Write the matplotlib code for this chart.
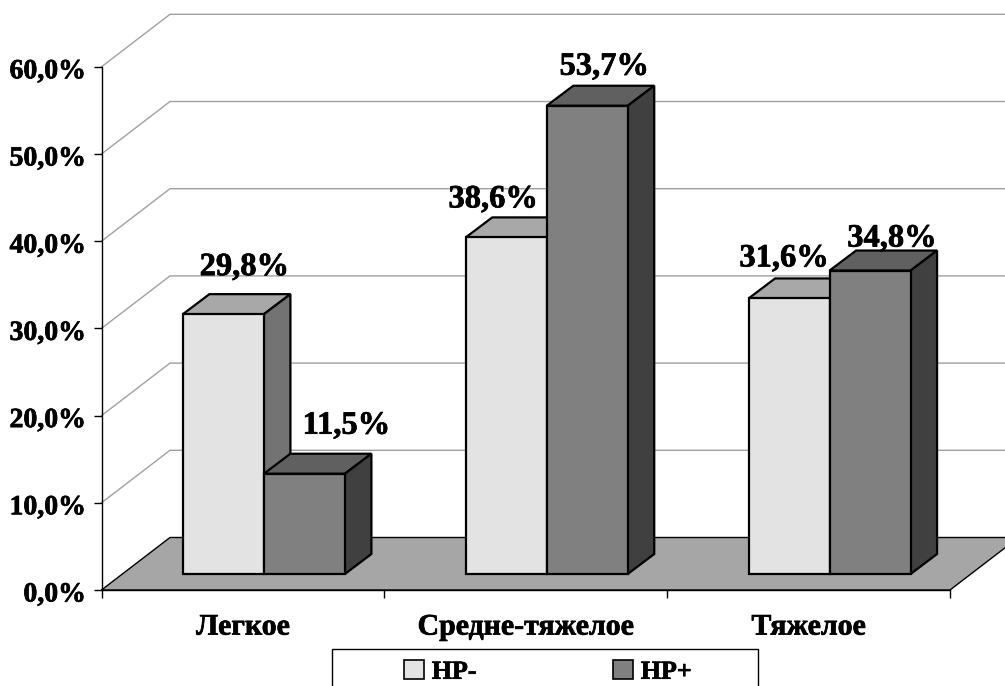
import matplotlib
matplotlib.use("Agg")
import matplotlib.pyplot as plt
from matplotlib.patches import Patch, Rectangle
from matplotlib.transforms import ScaledTranslation
import matplotlib.patheffects as pe

plt.rcParams['font.family'] = ['Liberation Serif', 'DejaVu Serif']
plt.rcParams['font.weight'] = 'bold'

# data
categories = ["Легкое", "Средне-тяжелое", "Тяжелое"]
hp_neg = [29.8, 38.6, 31.6]
hp_pos = [11.5, 53.7, 34.8]
hp_neg_labels = ["29,8%", "38,6%", "31,6%"]
hp_pos_labels = ["11,5%", "53,7%", "34,8%"]
y_ticks = [0, 10, 20, 30, 40, 50, 60]
y_tick_labels = ["0,0%", "10,0%", "20,0%", "30,0%", "40,0%", "50,0%", "60,0%"]

# canvas size and the pixel scale of the axes
W, H = 1005, 686
PX_X = 282.83       # pixels per category
PX_Y = 8.72         # pixels per percent
X0, Y0 = 101.5, 590 # pixel position of the origin

# thin outline to make the bold text a bit heavier
heavy = [pe.withStroke(linewidth=0.5, foreground='black')]


def dx(px):
    return px / PX_X


def dy(px):
    return px / PX_Y


fig = plt.figure(figsize=(W / 100, H / 100), dpi=100, facecolor='white')
ax = fig.add_axes([0, 0, 1, 1])
ax.set_xlim(-X0 / PX_X, (W - X0) / PX_X)
ax.set_ylim(-(H - Y0) / PX_Y, Y0 / PX_Y)
ax.patch.set_visible(False)

# fake 3d depth of the wall, and of the bars standing on the floor
wall_dx, wall_dy = dx(68.5), dy(52.5)
bar_dx, bar_dy = dx(26.5), dy(20)
front_dx, front_dy = dx(21), dy(16)
bar_w = dx(81)

# back wall grid lines
for v in y_ticks[1:]:
    ax.plot([0, wall_dx, 3 + wall_dx], [v, v + wall_dy, v + wall_dy],
            color='#a0a0a0', lw=1.0, zorder=1)

# floor
ax.fill([0, 3, 3 + wall_dx, wall_dx], [0, 0, wall_dy, wall_dy],
        facecolor='#a6a6a6', edgecolor='black', lw=1.0, zorder=1.5)


def draw_bar(x, v, front, top, side, z):
    y = front_dy
    ax.bar(x, v, width=bar_w, bottom=y, align='edge', color=front,
           edgecolor='black', lw=1.6, zorder=z + 0.2)
    ax.fill([x, x + bar_w, x + bar_w + bar_dx, x + bar_dx],
            [y + v, y + v, y + v + bar_dy, y + v + bar_dy],
            facecolor=top, edgecolor='black', lw=1.6, zorder=z, joinstyle='miter')
    ax.fill([x + bar_w, x + bar_w + bar_dx, x + bar_w + bar_dx, x + bar_w],
            [y, y + bar_dy, y + v + bar_dy, y + v],
            facecolor=side, edgecolor='black', lw=1.6, zorder=z, joinstyle='miter')


for i in range(3):
    x_mid = i + 0.5 + front_dx
    draw_bar(x_mid - bar_w, hp_neg[i], '#e3e3e3', '#a8a8a8', '#737373', 3 + i)
    draw_bar(x_mid, hp_pos[i], '#808080', '#606060', '#404040', 3.5 + i)

# value labels were nudged by hand, offsets in pixels from the front top middle
neg_nudge = [(21, 39), (-13, 30), (-5, 32)]
pos_nudge = [(42, 40), (17, 31), (22, 24)]
for i in range(3):
    x_mid = i + 0.5 + front_dx
    ax.annotate(hp_neg_labels[i], (x_mid - bar_w / 2, hp_neg[i] + front_dy),
                xytext=neg_nudge[i], textcoords='offset pixels', ha='center',
                va='baseline', fontsize=23.4, zorder=20, path_effects=heavy)
    ax.annotate(hp_pos_labels[i], (x_mid + bar_w / 2, hp_pos[i] + front_dy),
                xytext=pos_nudge[i], textcoords='offset pixels', ha='center',
                va='baseline', fontsize=23.4, zorder=20, path_effects=heavy)

# axes lines and ticks
for name in ['top', 'right']:
    ax.spines[name].set_visible(False)
ax.spines['left'].set_position(('data', 0))
ax.spines['left'].set_bounds(0, 60)
ax.spines['bottom'].set_position(('data', 0))
ax.spines['bottom'].set_bounds(0, 3)
ax.spines['left'].set_linewidth(1.0)
ax.spines['bottom'].set_linewidth(1.0)
ax.spines['left'].set_zorder(2.5)
ax.spines['bottom'].set_zorder(2.5)

ax.set_yticks(y_ticks)
ax.set_yticklabels(y_tick_labels, fontsize=20)
ax.tick_params(axis='y', length=5.5, width=1.0, pad=6)
shift_down = ScaledTranslation(0, -2 / 100, fig.dpi_scale_trans)
for lab in ax.get_yticklabels():
    lab.set_verticalalignment('center_baseline')
    lab.set_transform(lab.get_transform() + shift_down)
    lab.set_path_effects(heavy)

ax.set_xticks([0, 1, 2, 3])
ax.set_xticklabels([])
ax.set_xticks([0.5, 1.5, 2.5], minor=True)
ax.set_xticklabels(categories, minor=True, fontsize=21.5)
ax.tick_params(axis='x', which='major', length=6, width=1.0)
ax.tick_params(axis='x', which='minor', length=0, pad=17)
for lab in ax.get_xticklabels(minor=True):
    lab.set_path_effects(heavy)

# legend, the frame runs off the bottom of the canvas
ax.add_patch(Rectangle((332 / W, 1 - 709 / H), (758 - 332) / W, 60 / H,
                       transform=fig.transFigure, facecolor='white',
                       edgecolor='black', lw=1.0, zorder=15, clip_on=True))
handles = [Patch(facecolor='#e3e3e3', edgecolor='black', lw=1.2, label='HP-'),
           Patch(facecolor='#808080', edgecolor='black', lw=1.2, label='HP+')]
leg = ax.legend(handles=handles, ncol=2, frameon=False, loc='upper left',
                bbox_to_anchor=(404 / W, 1 - 660 / H), bbox_transform=fig.transFigure,
                borderaxespad=0, borderpad=0, fontsize=18.7, handlelength=0.77,
                handleheight=0.77, handletextpad=0.3, columnspacing=5.25)
leg.set_zorder(16)
for t in leg.get_texts():
    t.set_path_effects(heavy)

fig.savefig("out.png", dpi=100)
